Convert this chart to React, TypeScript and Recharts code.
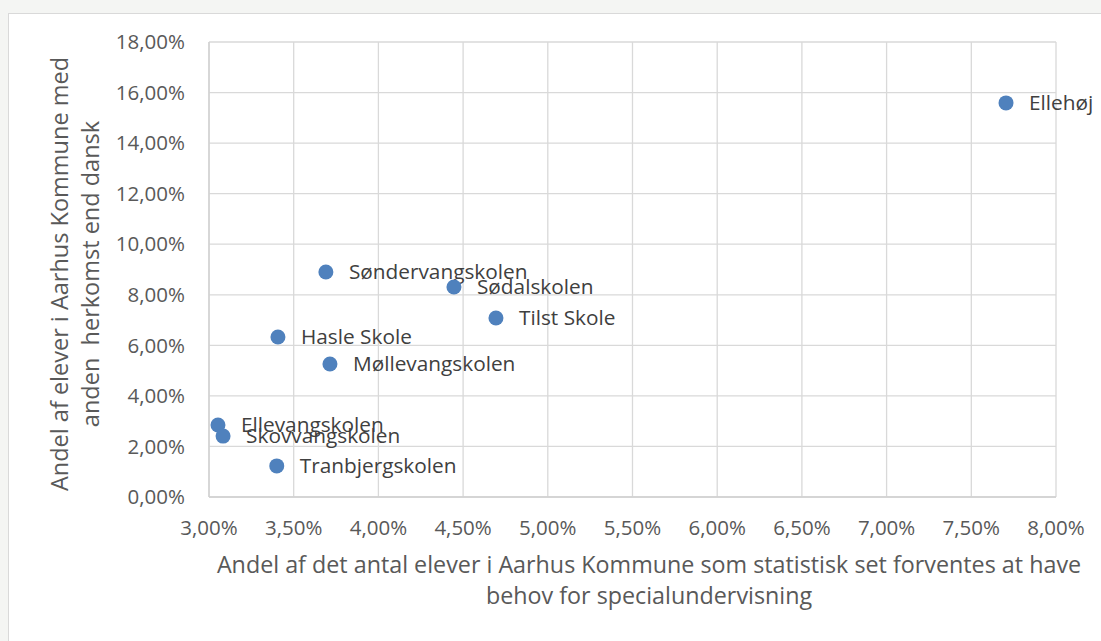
import React from 'react';
import { ScatterChart, Scatter, XAxis, YAxis, CartesianGrid } from 'recharts';

const schools = [
  'Ellehøj',
  'Søndervangskolen',
  'Sødalskolen',
  'Tilst Skole',
  'Hasle Skole',
  'Møllevangskolen',
  'Ellevangskolen',
  'Skovvangskolen',
  'Tranbjergskolen',
];
// x: share of pupils expected to need special education (%)
const specialNeeds = [7.705, 3.69, 4.446, 4.694, 3.407, 3.714, 3.053, 3.083, 3.4];
// y: share of pupils with non-Danish background (%)
const foreignBackground = [15.59, 8.9, 8.31, 7.08, 6.33, 5.26, 2.85, 2.41, 1.23];

const xTicks = [3, 3.5, 4, 4.5, 5, 5.5, 6, 6.5, 7, 7.5, 8];
const yTicks = [0, 2, 4, 6, 8, 10, 12, 14, 16, 18];

const data = schools.map((name, i) => ({ name, x: specialNeeds[i], y: foreignBackground[i] }));

const FONT = '"Open Sans", sans-serif';
const pct = (v: number) => v.toFixed(2).replace('.', ',') + '%';

const Dot = (props: any) => {
  const { cx, cy, payload } = props;
  return (
    <g>
      <circle cx={cx} cy={cy} r={7.5} fill="#4f81bd" />
      <text x={cx + 23} y={cy} dy="0.35em" fontSize={20.8} fontFamily={FONT} fill="#404040">
        {payload?.name}
      </text>
    </g>
  );
};

const XTitle = () => (
  <g fontFamily={FONT} fontSize={23.3} fill="#595959" textAnchor="middle">
    <text x={649} y={573}>Andel af det antal elever i Aarhus Kommune som statistisk set forventes at have</text>
    <text x={649} y={604}>behov for specialundervisning</text>
  </g>
);

const YTitle = () => (
  <g fontFamily={FONT} fontSize={23.5} fill="#595959" textAnchor="middle">
    <text x={68} y={274} transform="rotate(-90, 68, 274)">Andel af elever i Aarhus Kommune med</text>
    <text x={99} y={274} transform="rotate(-90, 99, 274)" style={{ whiteSpace: 'pre' }}>anden  herkomst end dansk</text>
  </g>
);

export default function App() {
  const tick = { fontSize: 20.5, fontFamily: FONT, fill: '#595959' };
  return (
    <div style={{ position: 'absolute', left: 0, top: 0, width: 1101, height: 641, background: '#f4f5f3', overflow: 'hidden' }}>
      <div style={{ position: 'absolute', left: 8, top: 13, width: 1150, height: 700, background: '#fff', border: '1px solid #d9d9d9' }} />
      <div style={{ position: 'absolute', left: 0, top: 0 }}>
        <ScatterChart width={1101} height={641} margin={{ top: 42, right: 45, left: 0, bottom: 0 }}>
          <CartesianGrid stroke="#d9d9d9" strokeWidth={1.3} />
          <XAxis
            type="number"
            dataKey="x"
            domain={[3, 8]}
            ticks={xTicks}
            interval={0}
            tickFormatter={pct}
            tick={tick}
            tickSize={0}
            tickMargin={23}
            height={144}
            axisLine={{ stroke: '#d0d0d0', strokeWidth: 1.3 }}
            label={<XTitle />}
          />
          <YAxis
            type="number"
            dataKey="y"
            domain={[0, 18]}
            ticks={yTicks}
            interval={0}
            tickFormatter={pct}
            tick={tick}
            tickSize={0}
            tickMargin={24}
            width={209}
            axisLine={{ stroke: '#d0d0d0', strokeWidth: 1.3 }}
            label={<YTitle />}
          />
          <Scatter data={data} shape={<Dot />} isAnimationActive={false} />
        </ScatterChart>
      </div>
    </div>
  );
}
